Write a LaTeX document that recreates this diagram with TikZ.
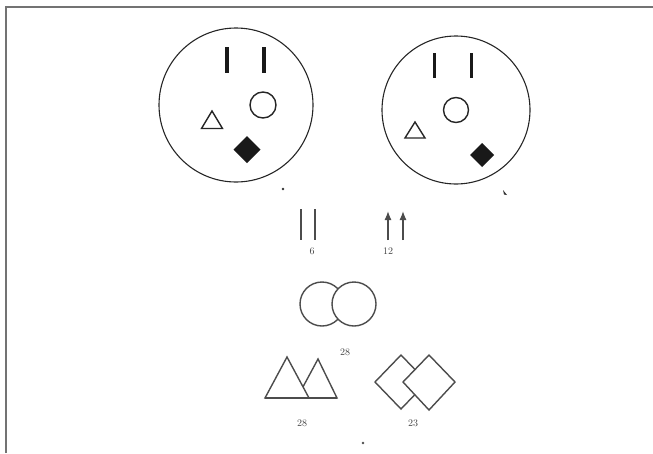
\documentclass[tikz,border=0pt]{standalone}
\usetikzlibrary{arrows.meta}
\begin{document}
\begin{tikzpicture}[x=1pt,y=-1pt,
  ink/.style={draw=black!85, line width=1.2pt},
  bar/.style={draw=black!90, line width=3.6pt},
  lbl/.style={font=\fontsize{10}{10}\selectfont, text=black!75, inner sep=0pt}]
\useasboundingbox (0,0) rectangle (653,453);
% frame
\draw[black!55, line width=1.4pt] (6,453) -- (6,7) -- (653,7);
% left outlet
\draw[ink, line width=1.1pt] (236,105) circle (77);
\draw[bar] (227,47) -- (227,73);
\draw[bar] (264,47) -- (264,73);
\draw[ink, line width=1.4pt] (263,105) circle (13);
\draw[ink, line width=1.4pt] (212,111) -- (222.5,128.5) -- (201.5,128.5) -- cycle;
\fill[black!90] (247,136) -- (260.5,149.5) -- (247,163) -- (233.5,149.5) -- cycle;
\fill[black!80] (283,189) circle (1.4);
% right outlet
\draw[ink, line width=1.1pt] (456,110) circle (74);
\draw[bar, line width=3pt] (434,53) -- (434,78);
\draw[bar, line width=3pt] (471,53) -- (471,78);
\draw[ink, line width=1.4pt] (456,110) circle (12.5);
\draw[ink, line width=1.4pt] (415,122) -- (425,138) -- (405,138) -- cycle;
\fill[black!90] (482,143) -- (494,155) -- (482,167) -- (470,155) -- cycle;
\fill[black!80] (503,190) -- (507,195) -- (504,194.5) -- cycle;
% pair of lines 6
\draw[black!70, line width=1.3pt] (301,209) -- (301,240);
\draw[black!70, line width=1.3pt] (315,209) -- (315,240);
\node[lbl] (l6) at (312,251) {6};
% arrows 12
\draw[black!70, line width=1.3pt, -{Latex[length=9pt,width=7pt]}] (388,240) -- (388,211);
\draw[black!70, line width=1.3pt, -{Latex[length=9pt,width=7pt]}] (403,240) -- (403,211);
\node[lbl] (l12) at (388,251) {12};
% circles 28
\draw[ink, black!70, line width=1.4pt] (322,304) circle (22);
\draw[ink, black!70, line width=1.4pt, fill=white] (354,304) circle (22);
\node[lbl] (l28a) at (345,352) {28};
% triangles
\draw[ink, black!70, line width=1.4pt] (318,359) -- (337,398) -- (297,398) -- cycle;
\draw[ink, black!70, line width=1.4pt, fill=white] (287,357) -- (309,398) -- (265,398) -- cycle;
\draw[ink, black!70, line width=1.4pt] (265,398) -- (337,398);
\node[lbl] (l28b) at (302,423) {28};
% diamonds
\draw[ink, black!70, line width=1.4pt] (401,355) -- (427,382) -- (401,409) -- (375,382) -- cycle;
\draw[ink, black!70, line width=1.4pt, fill=white] (429,355) -- (455,382) -- (429,410) -- (403,382) -- cycle;
\node[lbl] (l23) at (413,423) {23};
\fill[black!70] (363,443) circle (1.3);
\end{tikzpicture}
\end{document}
